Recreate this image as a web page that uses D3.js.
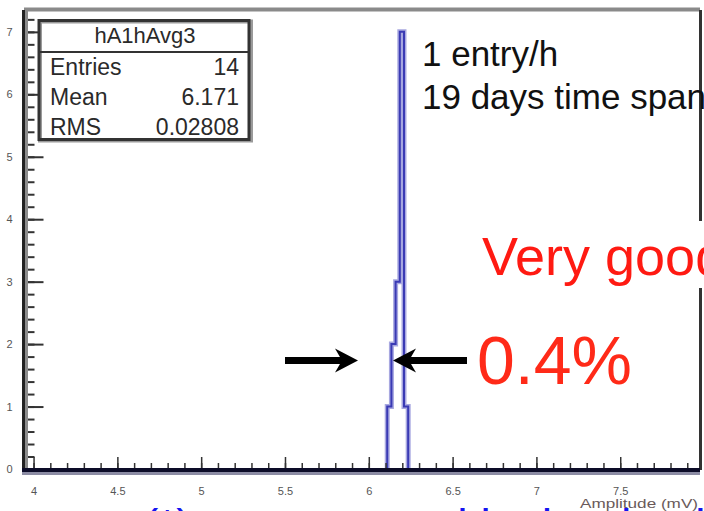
<!DOCTYPE html>
<html>
<head>
<meta charset="utf-8">
<script src="https://cdn.jsdelivr.net/npm/d3@7"></script>
<style>
  body { margin: 0; background: #fff; overflow: hidden; }
  svg { display: block; }
</style>
</head>
<body>
<div id="chart"></div>
<script>
// histogram bins (low edges, mV) and entries per bin
var binEdges = [6.11, 6.135, 6.16, 6.185, 6.21, 6.235];
var counts = [1, 2, 3, 7, 1];

// stats box
var histName = "hA1hAvg3";
var statLabels = ["Entries", "Mean", "RMS"];
var statValues = ["14", "6.171", "0.02808"];

// tick labels
var xTickLabels = [4, 4.5, 5, 5.5, 6, 6.5, 7, 7.5];
var yTickLabels = [0, 1, 2, 3, 4, 5, 6, 7];

var svgWidth = 704;
var svgHeight = 511;

var svg = d3.select("#chart")
  .append("svg")
  .attr("width", svgWidth)
  .attr("height", svgHeight);

// scales
var xScale = d3.scaleLinear()
  .domain([3.94, 7.97])
  .range([23.5, 699]);

var yScale = d3.scaleLinear()
  .domain([0, 7.35])
  .range([469, 10]);

var font = "'Liberation Sans', Arial, sans-serif";

// bottom blue note, mostly cut off by the picture edge
svg.append("text")
  .attr("x", 143)
  .attr("y", 542)
  .attr("font-family", font)
  .attr("font-size", "46px")
  .attr("fill", "#1414f0")
  .text("(*) as computed in the database");

// frame: top and right
svg.append("line")
  .attr("x1", 24).attr("x2", 700)
  .attr("y1", 9.5).attr("y2", 9.5)
  .attr("stroke", "#8a8a8a")
  .attr("stroke-width", 4);

svg.append("line")
  .attr("x1", 700.5).attr("x2", 700.5)
  .attr("y1", 10).attr("y2", 470)
  .attr("stroke", "#333")
  .attr("stroke-width", 3);

// histogram, drawn as a step outline
var stepPts = [[binEdges[0], 0]];
counts.forEach(function(c, i) {
  stepPts.push([binEdges[i], c]);
  stepPts.push([binEdges[i + 1], c]);
});
stepPts.push([binEdges[binEdges.length - 1], 0]);

var stepLine = d3.line()
  .x(function(d) { return xScale(d[0]); })
  .y(function(d) { return yScale(d[1]); });

svg.append("path")
  .attr("d", stepLine(stepPts))
  .attr("fill", "none")
  .attr("stroke", "#a8a8e0")
  .attr("stroke-width", 5);

svg.append("path")
  .attr("d", stepLine(stepPts))
  .attr("fill", "none")
  .attr("stroke", "#3a3ab4")
  .attr("stroke-width", 2);

// x axis ticks
var xMinor = d3.range(40, 80).map(function(v) { return v / 10; });
var xAxisMinor = d3.axisBottom(xScale)
  .tickValues(xMinor)
  .tickSize(-6)
  .tickFormat("");
var xAxisMajor = d3.axisBottom(xScale)
  .tickValues(xTickLabels)
  .tickSize(-12)
  .tickPadding(18)
  .tickFormat(d3.format("~g"));

var gxMinor = svg.append("g")
  .attr("transform", "translate(0,469)")
  .call(xAxisMinor);
var gx = svg.append("g")
  .attr("transform", "translate(0,469)")
  .call(xAxisMajor);

[gxMinor, gx].forEach(function(g) {
  g.select(".domain").remove();
  g.selectAll(".tick line").attr("stroke", "#333").attr("stroke-width", 1.5);
});
gx.selectAll(".tick text")
  .attr("font-family", font)
  .attr("font-size", "11px")
  .attr("fill", "#555");

// y axis ticks
var yMinor = d3.range(0, 37).map(function(v) { return v / 5; });
var yAxisMinor = d3.axisLeft(yScale)
  .tickValues(yMinor)
  .tickSize(-10)
  .tickFormat("");
var yAxisMajor = d3.axisLeft(yScale)
  .tickValues(yTickLabels)
  .tickSize(-19)
  .tickPadding(12)
  .tickFormat(d3.format("d"));

var gyMinor = svg.append("g")
  .attr("transform", "translate(24.5,0)")
  .call(yAxisMinor);
var gy = svg.append("g")
  .attr("transform", "translate(24.5,0)")
  .call(yAxisMajor);

[gyMinor, gy].forEach(function(g) {
  g.select(".domain").remove();
  g.selectAll(".tick line").attr("stroke", "#333").attr("stroke-width", 2);
});
gy.selectAll(".tick text")
  .attr("font-family", font)
  .attr("font-size", "11px")
  .attr("fill", "#555");

// axis lines (dark with a grey edge)
svg.append("line")
  .attr("x1", 26.5).attr("x2", 26.5)
  .attr("y1", 10).attr("y2", 475)
  .attr("stroke", "#8c8c8c").attr("stroke-width", 3);
svg.append("line")
  .attr("x1", 23.5).attr("x2", 23.5)
  .attr("y1", 10).attr("y2", 472)
  .attr("stroke", "#222").attr("stroke-width", 3);
svg.append("line")
  .attr("x1", 22).attr("x2", 700)
  .attr("y1", 473.5).attr("y2", 473.5)
  .attr("stroke", "#8c8ca4").attr("stroke-width", 3);
svg.append("line")
  .attr("x1", 22).attr("x2", 700)
  .attr("y1", 470).attr("y2", 470)
  .attr("stroke", "#0c0c28").attr("stroke-width", 4);

// axis title
svg.append("text")
  .attr("x", 698)
  .attr("y", 508)
  .attr("text-anchor", "end")
  .attr("font-family", font)
  .attr("font-size", "13px")
  .attr("textLength", 118)
  .attr("lengthAdjust", "spacingAndGlyphs")
  .attr("fill", "#6a5a5a")
  .text("Amplitude (mV)");

// stats box
var box = svg.append("g");
box.append("rect")
  .attr("x", 40).attr("y", 21.5)
  .attr("width", 211).attr("height", 119)
  .attr("fill", "#fff")
  .attr("stroke", "#9a9a9a")
  .attr("stroke-width", 4);
box.append("rect")
  .attr("x", 39).attr("y", 20.5)
  .attr("width", 210).attr("height", 119)
  .attr("fill", "none")
  .attr("stroke", "#333")
  .attr("stroke-width", 3);
box.append("line")
  .attr("x1", 39).attr("x2", 249)
  .attr("y1", 52).attr("y2", 52)
  .attr("stroke", "#333")
  .attr("stroke-width", 2);

box.append("text")
  .attr("x", 145)
  .attr("y", 43)
  .attr("text-anchor", "middle")
  .attr("font-family", font)
  .attr("font-size", "22px")
  .attr("fill", "#2a2a2a")
  .text(histName);

statLabels.forEach(function(lab, i) {
  var by = 75 + i * 30;
  box.append("text")
    .attr("x", 50)
    .attr("y", by)
    .attr("font-family", font)
    .attr("font-size", "23px")
    .attr("fill", "#2a2a2a")
    .text(lab);
  box.append("text")
    .attr("x", 239)
    .attr("y", by)
    .attr("text-anchor", "end")
    .attr("font-family", font)
    .attr("font-size", "23px")
    .attr("fill", "#2a2a2a")
    .text(statValues[i]);
});

// annotation text
svg.append("text")
  .attr("x", 422).attr("y", 66)
  .attr("font-family", font)
  .attr("font-size", "35px")
  .attr("fill", "#111")
  .text("1 entry/h");
svg.append("text")
  .attr("x", 422).attr("y", 109)
  .attr("font-family", font)
  .attr("font-size", "35px")
  .attr("fill", "#111")
  .text("19 days time span");

svg.append("rect")
  .attr("x", 472).attr("y", 221)
  .attr("width", 240).attr("height", 67)
  .attr("fill", "#fff");
svg.append("text")
  .attr("x", 482).attr("y", 275)
  .attr("font-family", font)
  .attr("font-size", "54px")
  .attr("fill", "#ff1a12")
  .text("Very good");

svg.append("text")
  .attr("x", 477).attr("y", 384)
  .attr("font-family", font)
  .attr("font-size", "68px")
  .attr("fill", "#ff2a18")
  .text("0.4%");

// arrows marking the width
var arrowY = 360.5;
function arrow(xFrom, xTip) {
  var dir = xTip > xFrom ? 1 : -1;
  var headBack = xTip - dir * 23;
  svg.append("line")
    .attr("x1", xFrom).attr("x2", xTip - dir * 16)
    .attr("y1", arrowY).attr("y2", arrowY)
    .attr("stroke", "#000")
    .attr("stroke-width", 7);
  svg.append("path")
    .attr("d", "M" + xTip + "," + arrowY +
      " L" + headBack + "," + (arrowY - 12) +
      " L" + (xTip - dir * 16) + "," + arrowY +
      " L" + headBack + "," + (arrowY + 12) + " Z")
    .attr("fill", "#000");
}
arrow(285, 358);
arrow(467, 393);
</script>
</body>
</html>
